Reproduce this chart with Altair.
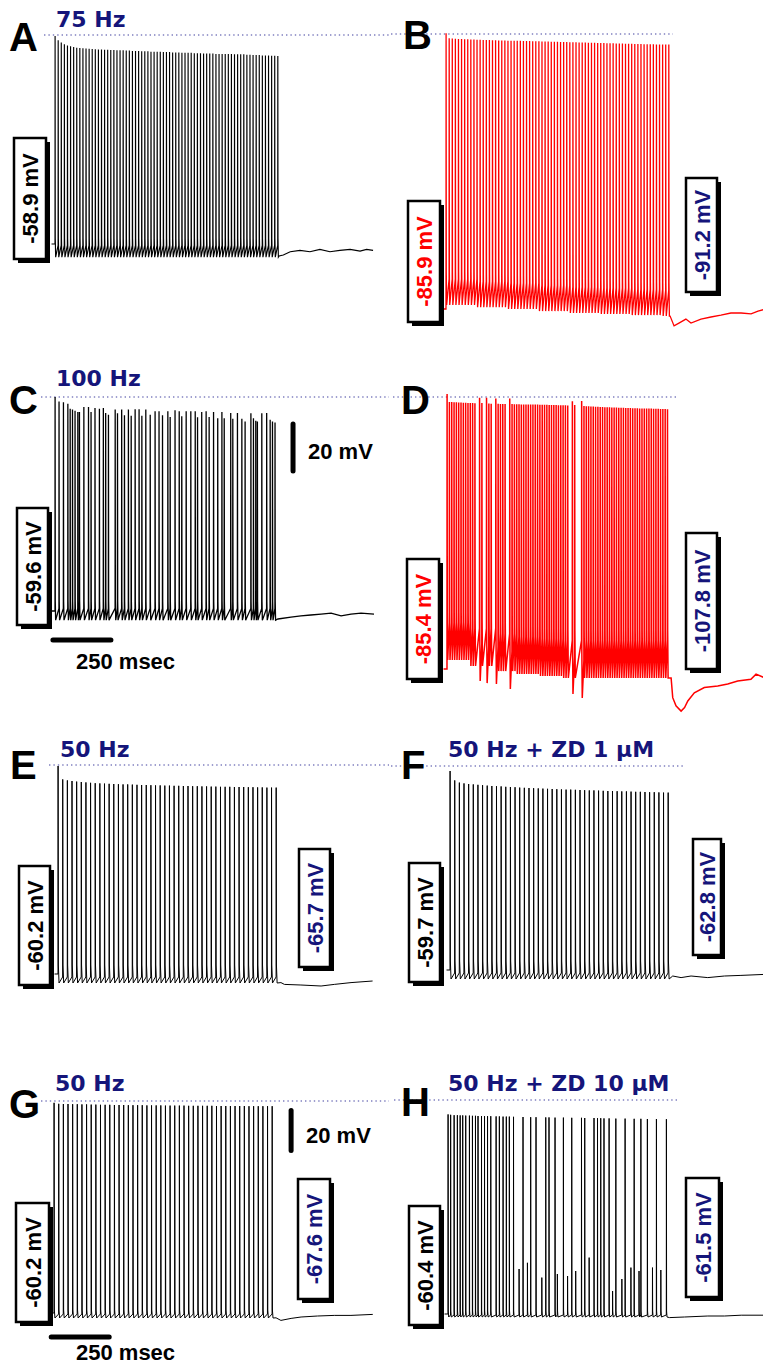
import altair as alt
import pandas as pd

# ---------------- values ----------------
PX_PER_MS = 0.232          # 250 msec bar = 58 px

# A : 75 Hz (black)
A_RATE_HZ = 75
A_REST_MV = -58.9
A_PEAK_MV = [29.6, 27.8, 26.8, 26.1, 25.6, 25.2, 24.9, 24.6, 24.5, 24.4,
             24.3, 24.2, 24.1, 24.0, 23.9, 23.9, 23.8, 23.8, 23.6, 23.6,
             23.5, 23.5, 23.5, 23.4, 23.4, 23.2, 23.2, 23.2, 23.1, 23.1,
             23.1, 22.9, 22.9, 22.9, 22.9, 22.8, 22.8, 22.8, 22.6, 22.6,
             22.6, 22.5, 22.5, 22.5, 22.5, 22.3, 22.3, 22.3, 22.2, 22.2,
             22.2, 22.2, 22.0, 22.0, 22.0, 21.9, 21.9, 21.9, 21.8, 21.8,
             21.8, 21.8, 21.6, 21.6, 21.5, 21.5, 21.5, 21.3, 21.3, 21.3,
             21.2, 21.2, 21.1]
A_TROUGH_MV = [-64.5]
A_POST_T = [966, 984, 1014, 1056, 1099, 1142, 1185, 1228, 1272, 1315, 1343, 1371]
A_POST_MV = [-64.0, -63.6, -62.2, -61.6, -62.2, -61.2, -62.2, -61.6, -61.2, -61.9, -61.2, -61.6]

# B : 75 Hz (red)
B_RATE_HZ = 75
B_REST_MV = -85.9
B_PEAK_MV = [31.4, 29.3, 29.2, 29.1, 29.0, 29.0, 28.9, 28.9, 28.8, 28.8,
             28.7, 28.7, 28.6, 28.6, 28.6, 28.5, 28.5, 28.4, 28.4, 28.4,
             28.3, 28.3, 28.3, 28.2, 28.2, 28.1, 28.1, 28.1, 28.0, 28.0,
             28.0, 27.9, 27.9, 27.9, 27.8, 27.8, 27.8, 27.7, 27.7, 27.7,
             27.6, 27.6, 27.6, 27.5, 27.5, 27.5, 27.4, 27.4, 27.4, 27.3,
             27.3, 27.3, 27.2, 27.2, 27.2, 27.1, 27.1, 27.1, 27.0, 27.0,
             27.0, 26.9, 26.9, 26.9, 26.8, 26.8, 26.8, 26.8, 26.7, 26.7,
             26.7, 26.7, 26.7]
B_TROUGH_MV = [-84.2, -85.1, -85.9, -86.8, -87.6, -88.0, -88.5, -88.9]
B_POST_T = [966, 983, 1004, 1034, 1056, 1099, 1142, 1185, 1228, 1272, 1315, 1345, 1379]
B_POST_MV = [-88.9, -93.1, -91.9, -90.2, -91.9, -90.2, -89.3, -88.5, -87.6, -87.6, -88.0, -86.8, -85.9]

# C : 100 Hz (black, with failures)
C_REST_MV = -59.6
C_SPIKE_T = [0, 17, 36, 55, 65, 75, 86, 98, 105, 124, 144, 155, 172, 191, 208, 218, 230,
             259, 269, 287, 299, 316, 328, 345, 362, 374, 391, 410, 431, 448, 463, 486,
             496, 517, 535, 546, 565, 585, 604, 614, 632, 651, 664, 683, 701, 719, 729,
             757, 766, 786, 805, 819, 844, 855, 865, 872, 891, 912, 927, 937, 948]
C_PEAK_MV = [31.5, 29.6, 29.2, 28.6, 26.5, 26.1, 25.6, 25.1, 25.1, 27.2, 27.2, 25.1, 26.8,
             26.5, 26.8, 24.7, 23.9, 26.1, 24.5, 26.1, 23.7, 26.1, 23.5, 26.3, 26.3, 23.5,
             26.1, 23.9, 25.4, 25.4, 23.7, 25.4, 23.0, 25.8, 25.4, 23.3, 25.4, 25.4, 25.4,
             22.8, 25.1, 25.4, 23.0, 25.1, 22.4, 25.1, 22.4, 24.7, 22.2, 24.7, 22.2, 21.0,
             24.5, 22.4, 21.4, 21.0, 24.5, 24.7, 21.8, 21.0, 20.6]
C_TROUGH_MV = [-63.5]
C_POST_T = [961, 1017, 1060, 1103, 1147, 1190, 1233, 1276, 1319, 1375]
C_POST_MV = [-63.0, -62.2, -61.7, -61.3, -60.9, -60.5, -61.7, -60.9, -60.5, -60.9]

# D : 100 Hz (red); None = failed spike
D_RATE_HZ = 100
D_REST_MV = -85.4
D_PEAK_MV = [31.6, 28.2, 28.2, 28.1, 28.1, 28.0, 28.0, 27.9, 27.9, 27.8,
             27.8, 27.8, 27.7, None, 30.0, 27.8, None, 30.0, 27.6, 27.5,
             None, 29.7, 27.5, 27.4, 27.4, 27.4, None, 29.7, 27.4, 27.3,
             27.3, 27.3, 27.2, 27.2, 27.2, 27.2, 27.1, 27.1, 27.1, 27.1,
             27.0, 27.0, 27.0, 27.0, 26.9, 26.9, 26.9, 26.9, 26.8, 26.8,
             26.8, 26.8, 26.7, None, 28.5, 26.9, None, None, 28.6, 26.5,
             26.4, 26.4, 26.3, 26.3, 26.2, 26.2, 26.1, 26.1, 26.0, 26.0,
             26.0, 25.9, 25.9, 25.9, 25.8, 25.8, 25.8, 25.7, 25.7, 25.7,
             25.6, 25.6, 25.6, 25.5, 25.5, 25.5, 25.4, 25.4, 25.4, 25.3,
             25.3, 25.3, 25.2, 25.2, 25.2, 25.1]
D_TROUGH_MV = [-81.6, -84.1, -86.3, -87.5, -88.4, -89.2, -89.2, -89.2, -89.2, -89.2]
D_DIP_IDX = [14, 17, 21, 27, 54, 58]
D_DIP_MV = [-90.5, -91.4, -91.8, -93.9, -96.0, -97.7]
D_POST_T = [966, 973, 987, 1009, 1024, 1038, 1066, 1109, 1167, 1210, 1253, 1310, 1332, 1368]
D_POST_MV = [-89.2, -97.6, -101.1, -103.3, -101.8, -99.0, -95.5, -93.3, -92.6, -91.8, -90.5, -89.8, -87.6, -89.1]

# E : 50 Hz (black)
E_RATE_HZ = 50
E_REST_MV = -60.2
E_PEAK_MV = [43.8, 37.1, 36.6, 36.3, 36.0, 35.8, 35.6, 35.4, 35.2, 35.1,
             35.0, 34.9, 34.8, 34.7, 34.6, 34.6, 34.5, 34.4, 34.3, 34.3,
             34.2, 34.1, 34.1, 34.0, 34.0, 33.9, 33.9, 33.8, 33.8, 33.7,
             33.7, 33.6, 33.6, 33.5, 33.5, 33.4, 33.4, 33.4, 33.3, 33.3,
             33.3, 33.2, 33.2, 33.1, 33.1, 33.0, 33.0, 33.0]
E_TROUGH_MV = [-64.7]
E_POST_T = [961, 976, 1047, 1134, 1191, 1263, 1356]
E_POST_MV = [-64.5, -65.4, -65.7, -66.2, -65.4, -64.5, -63.7]

# F : 50 Hz + ZD 1 uM
F_RATE_HZ = 50
F_REST_MV = -59.7
F_PEAK_MV = [39.8, 35.1, 34.0, 33.6, 33.3, 33.1, 32.9, 32.7, 32.5, 32.3,
             32.2, 32.1, 31.9, 31.8, 31.7, 31.5, 31.4, 31.3, 31.2, 31.1,
             31.0, 30.9, 30.8, 30.7, 30.6, 30.5, 30.5, 30.4, 30.3, 30.2,
             30.1, 30.1, 30.0, 29.9, 29.8, 29.8, 29.7, 29.6, 29.6, 29.5,
             29.4, 29.4, 29.3, 29.2, 29.2, 29.1, 29.0, 29.0]
F_TROUGH_MV = [-64.2]
F_POST_T = [960, 996, 1039, 1111, 1183, 1254, 1355]
F_POST_MV = [-62.7, -63.5, -62.7, -63.5, -62.7, -62.4, -61.9]

# G : 50 Hz (black)
G_RATE_HZ = 50
G_REST_MV = -60.2
G_PEAK_MV = [44.9, 44.4, 44.3, 44.3, 44.2, 44.2, 44.1, 44.1, 44.0, 44.0,
             43.9, 43.9, 43.9, 43.8, 43.8, 43.8, 43.7, 43.7, 43.7, 43.7,
             43.6, 43.6, 43.6, 43.6, 43.5, 43.5, 43.5, 43.5, 43.5, 43.4,
             43.4, 43.4, 43.4, 43.4, 43.4, 43.3, 43.3, 43.3, 43.3, 43.3,
             43.3, 43.3, 43.2, 43.2, 43.2, 43.2, 43.2, 43.2]
G_TROUGH_MV = [-62.7]
G_POST_T = [957, 978, 1022, 1065, 1136, 1208, 1280, 1374]
G_POST_MV = [-62.6, -63.9, -62.9, -62.2, -61.7, -61.4, -61.4, -60.9]

# H : 50 Hz + ZD 10 uM (full spikes and small failures)
H_REST_MV = -60.4
H_FULL_T = [0, 11, 26, 40, 52, 63, 76, 92, 105, 118, 129, 144, 157, 170, 184, 207, 221,
            237, 251, 264, 282, 323, 356, 379, 421, 435, 461, 497, 533, 575, 589, 629,
            644, 658, 672, 694, 723, 763, 802, 831, 859, 898, 941]
H_FULL_MV = [39.4, 39.2, 39.0, 39.0, 38.9, 38.9, 38.8, 38.8, 38.7, 38.7, 38.6, 38.6,
             38.5, 38.5, 38.5, 38.4, 38.4, 38.3, 38.3, 38.3, 38.2, 38.1, 38.0, 38.0,
             37.9, 37.9, 37.8, 37.8, 37.7, 37.7, 37.6, 37.6, 37.5, 37.5, 37.4, 37.4,
             37.3, 37.3, 37.2, 37.2, 37.1, 37.1, 37.0]
H_SMALL_T = [306, 342, 404, 471, 515, 550, 608, 709, 749, 788, 823, 881, 917]
H_SMALL_MV = [-37.9, -34.8, -42.2, -40.4, -41.4, -38.9, -32.2, -48.9, -42.9, -37.2,
              -38.9, -37.2, -38.4]
H_TROUGH_MV = [-61.9]
H_POST_T = [955, 1019, 1120, 1192, 1264, 1372]
H_POST_MV = [-62.2, -61.9, -61.4, -61.4, -61.0, -61.0]

SCALE_MV = 20
SCALE_MS = 250

NAVY = "#15157a"
RED = "#ff0000"
BLACK = "#000000"
DOT = "#8080c0"


def regular_times(n, rate):
    return [i * 1000.0 / rate for i in range(n)]


def build_trace(times, peaks, rest, troughs, post_t, post_v, rise, shoulder,
                t_sh, t_tr, dips=None):
    rows = [(-15.0, rest)]
    base = rest
    for i, (t, p) in enumerate(zip(times, peaks)):
        if p is None:
            continue
        tr = troughs[min(i // 10, len(troughs) - 1)]
        if dips and i in dips:
            tr = dips[i]
        rows.append((t, base))
        rows.append((t + 0.4, p))
        rows.append((t + t_sh, tr + shoulder))
        rows.append((t + t_tr, tr))
        base = tr + rise
    for t, v in zip(post_t, post_v):
        rows.append((t, v))
    df = pd.DataFrame(rows, columns=["t", "v"])
    df["i"] = range(len(df))
    return df


def one_row(**kw):
    return pd.DataFrame({k: [v] for k, v in kw.items()})


def panel(trace_df, color, lw, geo, ann, scale=None):
    pl, pt, w, h, t0x, ry, ref, kpx = geo
    xd = [(0 - (t0x - pl)) / PX_PER_MS, (w - (t0x - pl)) / PX_PER_MS]
    yd = [ref - (pt + h - ry) / kpx, ref + (ry - pt) / kpx]
    xs = alt.Scale(domain=xd, nice=False, zero=False)
    ys = alt.Scale(domain=yd, nice=False, zero=False)
    layers = []

    # dotted reference line
    x1, x2, yy = ann["dot"]
    layers.append(
        alt.Chart(one_row(a=0)).mark_rule(
            color=DOT, strokeWidth=1.4, strokeDash=[1.4, 3.0], clip=True
        ).encode(x=alt.value(x1 - pl), x2=alt.value(min(x2 - pl, w)), y=alt.value(yy - pt))
    )

    # trace
    layers.append(
        alt.Chart(trace_df).mark_line(color=color, strokeWidth=lw, interpolate="linear",
                                      clip=True).encode(
            x=alt.X("t:Q", scale=xs, axis=None),
            y=alt.Y("v:Q", scale=ys, axis=None),
            order="i:Q",
        )
    )

    # scale bars
    if scale is not None:
        tv, vlow, t_lo, vh = scale
        layers.append(
            alt.Chart(one_row(t=tv, v=vlow, v2=vlow + SCALE_MV)).mark_rule(
                color=BLACK, strokeWidth=5, strokeCap="round", clip=True).encode(
                x=alt.X("t:Q", scale=xs, axis=None),
                y=alt.Y("v:Q", scale=ys, axis=None),
                y2="v2:Q",
            )
        )
        layers.append(
            alt.Chart(one_row(t=t_lo, t2=t_lo + SCALE_MS, v=vh)).mark_rule(
                color=BLACK, strokeWidth=5, strokeCap="round", clip=True).encode(
                x=alt.X("t:Q", scale=xs, axis=None),
                x2="t2:Q",
                y=alt.Y("v:Q", scale=ys, axis=None),
            )
        )

    # boxed membrane-potential labels
    for (bx1, by1, bx2, by2, txt, col) in ann["boxes"]:
        layers.append(
            alt.Chart(one_row(a=0)).mark_rect(fill=BLACK, clip=True).encode(
                x=alt.value(bx1 - pl + 4), x2=alt.value(bx2 - pl + 4),
                y=alt.value(by1 - pt + 4), y2=alt.value(by2 - pt + 4))
        )
        layers.append(
            alt.Chart(one_row(a=0)).mark_rect(
                fill="white", stroke=BLACK, strokeWidth=2.5, clip=True).encode(
                x=alt.value(bx1 - pl), x2=alt.value(bx2 - pl),
                y=alt.value(by1 - pt), y2=alt.value(by2 - pt))
        )
        layers.append(
            alt.Chart(one_row(s=txt)).mark_text(
                angle=270, font="Liberation Sans", fontWeight="bold", fontSize=22,
                align="center", baseline="middle", color=col, clip=True).encode(
                x=alt.value((bx1 + bx2) / 2 - pl + 1), y=alt.value((by1 + by2) / 2 - pt),
                text="s:N")
        )

    # free texts: (text, x, baseline, font, size, color)
    for (txt, tx, tb, font, size, col) in ann["texts"]:
        layers.append(
            alt.Chart(one_row(s=txt)).mark_text(
                font=font, fontWeight="bold", fontSize=size, align="left",
                baseline="alphabetic", color=col, clip=True).encode(
                x=alt.value(tx - pl), y=alt.value(tb - pt), text="s:N")
        )

    return alt.layer(*layers).properties(width=w, height=h)


LET = ("Liberation Sans", 40, BLACK)
TTL = ("DejaVu Sans", 22, NAVY)
SCL = ("Liberation Sans", 22, BLACK)


def T(txt, x, b, style):
    return (txt, x, b, style[0], style[1], style[2])


# geometry: page-left, page-top, width, height, page x of t=0, page y of rest, rest mV, px per mV
GEO = {
    "A": (8, 8, 382, 322, 54, 243, A_REST_MV, 2.35),
    "B": (390, 8, 372, 322, 445, 308, B_REST_MV, 2.35),
    "C": (8, 330, 382, 400, 54, 610, C_REST_MV, 2.35),
    "D": (390, 330, 372, 400, 446, 668, D_REST_MV, 2.35),
    "E": (8, 730, 382, 315, 57, 973, E_REST_MV, 2.0),
    "F": (390, 730, 372, 315, 449, 969, F_REST_MV, 2.0),
    "G": (8, 1045, 382, 319, 53, 1312, G_REST_MV, 2.0),
    "H": (390, 1045, 372, 319, 447, 1313, H_REST_MV, 2.0),
}

ANN = {
    "A": dict(dot=(43, 388, 34),
              boxes=[(13, 137, 45, 258, "-58.9 mV", BLACK)],
              texts=[T("A", 8, 50, LET), T("75 Hz", 55, 26, TTL)]),
    "B": dict(dot=(390, 672, 33),
              boxes=[(407, 200, 439, 321, "-85.9 mV", RED),
                     (685, 177, 716, 291, "-91.2 mV", NAVY)],
              texts=[T("B", 402, 48, LET)]),
    "C": dict(dot=(40, 388, 396),
              boxes=[(16, 507, 47, 624, "-59.6 mV", BLACK)],
              texts=[T("C", 8, 413, LET), T("100 Hz", 55, 385, TTL),
                     T("20 mV", 307, 458, SCL), T("250 msec", 75, 668, SCL)]),
    "D": dict(dot=(392, 675, 396),
              boxes=[(406, 558, 438, 678, "-85.4 mV", RED),
                     (685, 532, 716, 668, "-107.8 mV", NAVY)],
              texts=[T("D", 400, 413, LET)]),
    "E": dict(dot=(48, 388, 764),
              boxes=[(18, 865, 49, 984, "-60.2 mV", BLACK),
                     (298, 848, 329, 966, "-65.7 mV", NAVY)],
              texts=[T("E", 9, 778, LET), T("50 Hz", 59, 756, TTL)]),
    "F": dict(dot=(390, 683, 765),
              boxes=[(408, 862, 439, 981, "-59.7 mV", BLACK),
                     (692, 838, 720, 954, "-62.8 mV", NAVY)],
              texts=[T("F", 400, 778, LET), T("50 Hz + ZD 1 \u03bcM", 447, 756, TTL)]),
    "G": dict(dot=(40, 388, 1100),
              boxes=[(15, 1202, 48, 1321, "-60.2 mV", BLACK),
                     (297, 1178, 329, 1298, "-67.6 mV", NAVY)],
              texts=[T("G", 8, 1117, LET), T("50 Hz", 54, 1090, TTL),
                     T("20 mV", 305, 1142, SCL), T("250 msec", 75, 1359, SCL)]),
    "H": dict(dot=(393, 677, 1099),
              boxes=[(408, 1205, 439, 1324, "-60.4 mV", BLACK),
                     (685, 1177, 718, 1296, "-61.5 mV", NAVY)],
              texts=[T("H", 400, 1115, LET), T("50 Hz + ZD 10 \u03bcM", 447, 1090, TTL)]),
}

# traces
trA = build_trace(regular_times(len(A_PEAK_MV), A_RATE_HZ), A_PEAK_MV, A_REST_MV, A_TROUGH_MV,
                  A_POST_T, A_POST_MV, 5, 8, 1.2, 2.8)
trB = build_trace(regular_times(len(B_PEAK_MV), B_RATE_HZ), B_PEAK_MV, B_REST_MV, B_TROUGH_MV,
                  B_POST_T, B_POST_MV, 11, 14, 1.2, 2.8)
trC = build_trace(C_SPIKE_T, C_PEAK_MV, C_REST_MV, C_TROUGH_MV,
                  C_POST_T, C_POST_MV, 5, 8, 1.2, 2.8)
trD = build_trace(regular_times(len(D_PEAK_MV), D_RATE_HZ), D_PEAK_MV, D_REST_MV, D_TROUGH_MV,
                  D_POST_T, D_POST_MV, 16, 20, 1.2, 3.0, dict(zip(D_DIP_IDX, D_DIP_MV)))
trE = build_trace(regular_times(len(E_PEAK_MV), E_RATE_HZ), E_PEAK_MV, E_REST_MV, E_TROUGH_MV,
                  E_POST_T, E_POST_MV, 3, 9, 1.6, 4.5)
trF = build_trace(regular_times(len(F_PEAK_MV), F_RATE_HZ), F_PEAK_MV, F_REST_MV, F_TROUGH_MV,
                  F_POST_T, F_POST_MV, 3, 9, 1.6, 4.5)
trG = build_trace(regular_times(len(G_PEAK_MV), G_RATE_HZ), G_PEAK_MV, G_REST_MV, G_TROUGH_MV,
                  G_POST_T, G_POST_MV, 2, 4, 1.5, 4.0)
h_all = sorted(zip(H_FULL_T + H_SMALL_T, H_FULL_MV + H_SMALL_MV))
trH = build_trace([a for a, b in h_all], [b for a, b in h_all], H_REST_MV, H_TROUGH_MV,
                  H_POST_T, H_POST_MV, 1.0, 3, 1.2, 3.0)

# scale bars: (t of vertical bar, its low mV, start t of horizontal bar, its mV)
SCALE_C = (1026, 0, -9, -71.9)
SCALE_G = (1022, 21, -12, -72.2)

pA = panel(trA, BLACK, 1.15, GEO["A"], ANN["A"])
pB = panel(trB, RED, 1.3, GEO["B"], ANN["B"])
pC = panel(trC, BLACK, 1.3, GEO["C"], ANN["C"], SCALE_C)
pD = panel(trD, RED, 1.5, GEO["D"], ANN["D"])
pE = panel(trE, BLACK, 1.0, GEO["E"], ANN["E"])
pF = panel(trF, BLACK, 1.0, GEO["F"], ANN["F"])
pG = panel(trG, BLACK, 1.0, GEO["G"], ANN["G"], SCALE_G)
pH = panel(trH, BLACK, 1.0, GEO["H"], ANN["H"])

chart = alt.concat(pA, pB, pC, pD, pE, pF, pG, pH, columns=2, spacing=0,
                   bounds="flush", padding=0).configure_view(stroke="transparent")

chart.save("out.html", embed_options={"renderer": "svg", "actions": False})
